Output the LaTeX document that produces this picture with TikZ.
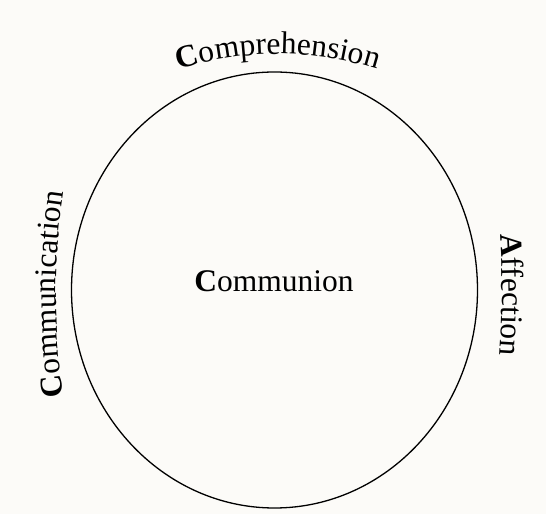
\documentclass[tikz,border=0pt]{standalone}
\usepackage{fontspec}
\setmainfont{Liberation Serif}
\usetikzlibrary{decorations.text}
\definecolor{paper}{RGB}{252,251,248}
\newcommand{\bigsize}{\fontsize{31.5}{36}\selectfont}
\begin{document}
\begin{tikzpicture}[x=1pt,y=1pt,line cap=round,line join=round,font=\bigsize]
	\useasboundingbox (0,0) rectangle (546,514);
	\fill[paper] (0,0) rectangle (546,514);
	\tikzset{arctext/.style 2 args={decorate,decoration={text along path,text align=center,
		text={|\bigsize\bfseries|#1|\bigsize\mdseries|#2}}}}
	% the circle and the word in it
	\draw[line width=1.3pt] (274.5,224) ellipse (203 and 218);
	\node[anchor=base] (communion) at (274,222) {\textbf{C}ommunion};
	% the three words round it
	\path[arctext={C}{omprehension}] (278,130) ++(125:330) arc[start angle=125,end angle=55,radius=330];
	\path[arctext={C}{ommunication}] (756,220) ++(195:700) arc[start angle=195,end angle=165,radius=700];
	\path[arctext={A}{ffection}] (-398,219) ++(10:900) arc[start angle=10,end angle=-10,radius=900];
\end{tikzpicture}
\end{document}
